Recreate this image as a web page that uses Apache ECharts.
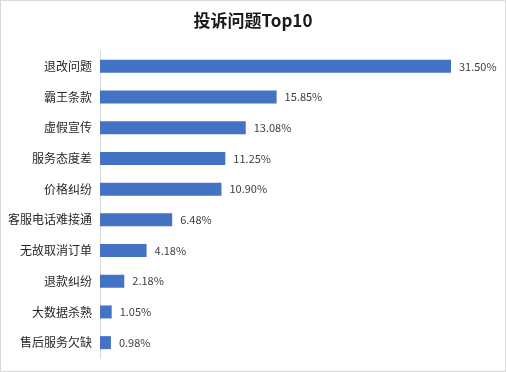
<!DOCTYPE html>
<html><head><meta charset="utf-8">
<script src="https://cdn.jsdelivr.net/npm/echarts@6/dist/echarts.min.js"></script>
<style>html,body{margin:0;padding:0;background:#fff;}#c{width:504px;height:370px;border:1px solid #d9d9d9;}</style>
</head><body><div id="c"></div>
<script>
const categories = ['退改问题','霸王条款','虚假宣传','服务态度差','价格纠纷','客服电话难接通','无故取消订单','退款纠纷','大数据杀熟','售后服务欠缺'];
const values = [31.50,15.85,13.08,11.25,10.90,6.48,4.18,2.18,1.05,0.98];
const titleText = '投诉问题Top10';
const chart = echarts.init(document.getElementById('c'));
chart.setOption({
  animation:false,
  title:{text:titleText,left:'center',top:6,textStyle:{fontFamily:'Noto Sans CJK SC',fontWeight:'bold',fontSize:17,color:'#1a1a1a'}},
  grid:{left:99,top:50,width:390,height:307},
  xAxis:{type:'value',min:0,max:35,show:false},
  yAxis:{type:'category',inverse:true,data:categories,
    axisLine:{show:true,lineStyle:{color:'#d9d9d9',width:1}},axisTick:{show:false},
    axisLabel:{color:'#262626',fontSize:12,fontFamily:'Noto Sans CJK SC',margin:8}},
  series:[{type:'bar',data:values,barWidth:13,itemStyle:{color:'#4472C4'},
    label:{show:true,position:'right',distance:8,color:'#404040',fontSize:11,fontFamily:'Noto Sans CJK SC',formatter:p=>p.value.toFixed(2)+'%'}}]
});
</script></body></html>
